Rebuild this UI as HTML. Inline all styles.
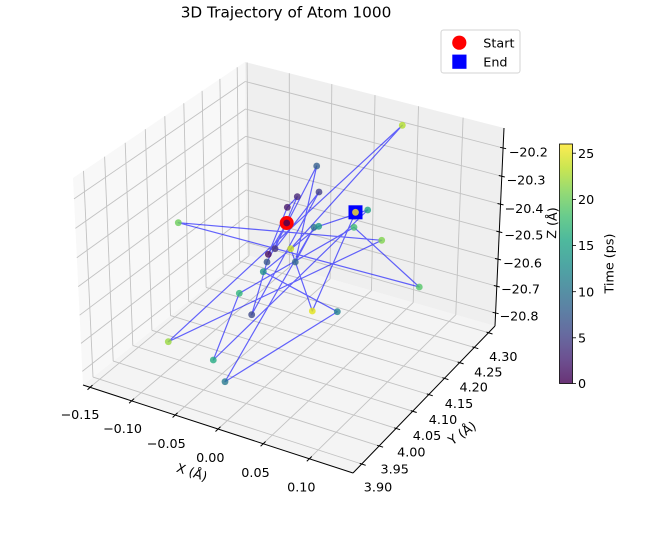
<!DOCTYPE html>
<html>
<head>
<meta charset="utf-8">
<style>
  html, body { margin:0; padding:0; background:#ffffff; }
  svg { display:block; }
  text { font-family: "DejaVu Sans", "Liberation Sans", sans-serif; fill:#000; }
</style>
</head>
<body>
<svg width="651" height="535" viewBox="0 0 651 535" xmlns="http://www.w3.org/2000/svg">
  <defs>
    <linearGradient id="vir" x1="0" y1="1" x2="0" y2="0">
      <stop offset="0" stop-color="#440154"/>
      <stop offset="0.1" stop-color="#482475"/>
      <stop offset="0.2" stop-color="#414487"/>
      <stop offset="0.3" stop-color="#355f8d"/>
      <stop offset="0.4" stop-color="#2a788e"/>
      <stop offset="0.5" stop-color="#21918c"/>
      <stop offset="0.6" stop-color="#22a884"/>
      <stop offset="0.7" stop-color="#44bf70"/>
      <stop offset="0.8" stop-color="#7ad151"/>
      <stop offset="0.9" stop-color="#bddf26"/>
      <stop offset="1" stop-color="#fde725"/>
    </linearGradient>
  </defs>
  <rect x="0" y="0" width="651" height="535" fill="#ffffff"/>

  <!-- Title -->
  <text x="286" y="17.5" font-size="15.3" text-anchor="middle">3D Trajectory of Atom 1000</text>

  <!-- Panes -->
  <polygon points="83,385 353,473 495,326 247,255" fill="#f4f4f4"/>
  <polygon points="247,255 495,326 504,128 245,62" fill="#efefef"/>
  <polygon points="83,385 247,255 245,62 73,178" fill="#f8f8f8"/>

  <!-- Grid -->
  <g stroke="#c2c2c2" stroke-width="0.9" fill="none">
    <!-- x grid bottom -->
    <line x1="90.0" y1="387.3" x2="249.0" y2="255.6"/>
    <line x1="131.6" y1="400.8" x2="289.4" y2="267.1"/>
    <line x1="175.1" y1="415.0" x2="330.1" y2="278.8"/>
    <line x1="218.0" y1="429.0" x2="371.5" y2="290.6"/>
    <line x1="263.1" y1="443.7" x2="413.2" y2="302.6"/>
    <line x1="309.3" y1="458.7" x2="455.8" y2="314.8"/>
    <!-- x grid back -->
    <line x1="249.0" y1="255.6" x2="247.1" y2="62.5"/>
    <line x1="289.4" y1="267.1" x2="289.3" y2="73.3"/>
    <line x1="330.1" y1="278.8" x2="331.8" y2="84.1"/>
    <line x1="371.5" y1="290.6" x2="375.0" y2="95.1"/>
    <line x1="413.2" y1="302.6" x2="418.5" y2="106.2"/>
    <line x1="455.8" y1="314.8" x2="463.1" y2="117.6"/>
    <!-- y grid bottom -->
    <line x1="93.0" y1="377.1" x2="361.7" y2="464.0"/>
    <line x1="113.2" y1="361.1" x2="379.1" y2="445.9"/>
    <line x1="132.8" y1="345.5" x2="396.1" y2="428.4"/>
    <line x1="151.9" y1="330.3" x2="412.7" y2="411.2"/>
    <line x1="170.5" y1="315.6" x2="428.8" y2="394.5"/>
    <line x1="188.6" y1="301.3" x2="444.4" y2="378.3"/>
    <line x1="206.1" y1="287.4" x2="459.6" y2="362.6"/>
    <line x1="223.1" y1="274.0" x2="474.3" y2="347.4"/>
    <line x1="239.5" y1="261.1" x2="488.5" y2="332.7"/>
    <!-- y grid left -->
    <line x1="93.0" y1="377.1" x2="83.5" y2="170.9"/>
    <line x1="113.2" y1="361.1" x2="104.6" y2="156.7"/>
    <line x1="132.8" y1="345.5" x2="125.2" y2="142.8"/>
    <line x1="151.9" y1="330.3" x2="145.3" y2="129.2"/>
    <line x1="170.5" y1="315.6" x2="164.8" y2="116.1"/>
    <line x1="188.6" y1="301.3" x2="183.8" y2="103.3"/>
    <line x1="206.1" y1="287.4" x2="202.1" y2="90.9"/>
    <line x1="223.1" y1="274.0" x2="219.9" y2="78.9"/>
    <line x1="239.5" y1="261.1" x2="237.2" y2="67.3"/>
    <!-- z grid back -->
    <line x1="495.6" y1="313" x2="246.9" y2="242.3"/>
    <line x1="496.8" y1="286.25" x2="246.6" y2="216.2"/>
    <line x1="498.0" y1="259.2" x2="246.3" y2="189.9"/>
    <line x1="499.3" y1="231.85" x2="246.0" y2="163.2"/>
    <line x1="500.5" y1="204.2" x2="245.8" y2="136.3"/>
    <line x1="501.8" y1="176.25" x2="245.5" y2="109.0"/>
    <line x1="503.1" y1="148" x2="245.2" y2="81.5"/>
    <!-- z grid left -->
    <line x1="246.9" y1="242.3" x2="82.3" y2="371.4"/>
    <line x1="246.6" y1="216.2" x2="81.0" y2="343.4"/>
    <line x1="246.3" y1="189.9" x2="79.6" y2="315.2"/>
    <line x1="246.0" y1="163.2" x2="78.2" y2="286.6"/>
    <line x1="245.8" y1="136.3" x2="76.8" y2="257.7"/>
    <line x1="245.5" y1="109.0" x2="75.4" y2="228.4"/>
    <line x1="245.2" y1="81.5" x2="74.0" y2="198.9"/>
  </g>

  <!-- Axis lines -->
  <g stroke="#000" stroke-width="1" fill="none">
    <line x1="83" y1="385" x2="353" y2="473"/>
    <line x1="353" y1="473" x2="495" y2="326"/>
    <line x1="495" y1="326" x2="504" y2="128"/>
  </g>

  <!-- Tick marks -->
  <g stroke="#000" stroke-width="1">
    <line x1="87.5" y1="389.8" x2="92.5" y2="385.1"/>
    <line x1="129.1" y1="403.3" x2="134.1" y2="398.6"/>
    <line x1="172.6" y1="417.5" x2="177.6" y2="412.8"/>
    <line x1="215.5" y1="431.5" x2="220.5" y2="426.8"/>
    <line x1="260.6" y1="446.2" x2="265.6" y2="441.5"/>
    <line x1="306.8" y1="461.2" x2="311.8" y2="456.5"/>

    <line x1="359.7" y1="463.4" x2="365.7" y2="465.3"/>
    <line x1="377.1" y1="445.3" x2="383.1" y2="447.2"/>
    <line x1="394.1" y1="427.8" x2="400.1" y2="429.7"/>
    <line x1="410.7" y1="410.6" x2="416.7" y2="412.5"/>
    <line x1="426.8" y1="393.9" x2="432.8" y2="395.8"/>
    <line x1="442.4" y1="377.7" x2="448.4" y2="379.6"/>
    <line x1="457.6" y1="362.0" x2="463.6" y2="363.9"/>
    <line x1="472.3" y1="346.8" x2="478.3" y2="348.7"/>
    <line x1="486.5" y1="332.1" x2="492.5" y2="334.0"/>

    <line x1="492.6" y1="312.3" x2="498.6" y2="313.7"/>
    <line x1="493.8" y1="285.5" x2="499.8" y2="287.0"/>
    <line x1="495.0" y1="258.5" x2="501.0" y2="259.9"/>
    <line x1="496.3" y1="231.1" x2="502.3" y2="232.6"/>
    <line x1="497.5" y1="203.5" x2="503.5" y2="204.9"/>
    <line x1="498.8" y1="175.5" x2="504.8" y2="177.0"/>
    <line x1="500.1" y1="147.3" x2="506.1" y2="148.7"/>
  </g>

  <!-- Tick labels -->
  <g font-size="12.75" text-anchor="middle">
    <text x="80" y="418.9">−0.15</text>
    <text x="122.5" y="432.9">−0.10</text>
    <text x="166.2" y="447.9">−0.05</text>
    <text x="210.3" y="462.1">0.00</text>
    <text x="255.5" y="477.1">0.05</text>
    <text x="301.3" y="491.6">0.10</text>

    <text x="378" y="491.3">3.90</text>
    <text x="394.7" y="473.6">3.95</text>
    <text x="411.3" y="456.6">4.00</text>
    <text x="427" y="439.9">4.05</text>
    <text x="443" y="423.9">4.10</text>
    <text x="459" y="407.9">4.15</text>
    <text x="473.7" y="391.6">4.20</text>
    <text x="488.3" y="376.3">4.25</text>
    <text x="503.3" y="360.8">4.30</text>

    <text x="528.3" y="156.3">−20.2</text>
    <text x="526" y="184.6">−20.3</text>
    <text x="524" y="212.9">−20.4</text>
    <text x="523.8" y="239.6">−20.5</text>
    <text x="522.5" y="267.6">−20.6</text>
    <text x="520.5" y="293.6">−20.7</text>
    <text x="519" y="320.6">−20.8</text>
  </g>

  <!-- Axis labels -->
  <g font-size="12.75" text-anchor="middle">
    <text transform="translate(192,472) rotate(18)" y="4.6">X (Å)</text>
    <text transform="translate(462,433) rotate(-35)" y="4.6">Y (Å)</text>
    <text transform="translate(552,223) rotate(-88)" y="4.6">Z (Å)</text>
  </g>

  <!-- Trajectory line -->
  <polyline fill="none" stroke="#0000ff" stroke-opacity="0.6" stroke-width="1.2" stroke-linejoin="round"
    points="286.7,223 268.3,254.3 287.3,207.3 297.3,196.7 275,248.7 319,192 251.7,314.7 267,262 316.7,166 295.3,262 314,227.3 225,381.7 337.3,311.7 263.3,271.7 318.7,226.3 367.7,210 213.3,360 239.3,293.3 354,227.3 419.3,287 178.3,222.7 381.7,240.3 168.3,341.7 402.3,125.3 290.7,248.7 312.3,311 355.5,212.3"/>

  <!-- Start / End markers -->
  <circle cx="286.7" cy="223" r="7" fill="#ff0000"/>
  <rect x="348.5" y="205.3" width="14" height="14" fill="#0000ff"/>

  <!-- Scatter points -->
  <g fill-opacity="0.8">
    <circle cx="286.7" cy="223" r="3.4" fill="#440154"/>
    <circle cx="268.3" cy="254.3" r="3.4" fill="#470d60"/>
    <circle cx="287.3" cy="207.3" r="3.4" fill="#481a6c"/>
    <circle cx="297.3" cy="196.7" r="3.4" fill="#482878"/>
    <circle cx="275" cy="248.7" r="3.4" fill="#46337f"/>
    <circle cx="319" cy="192" r="3.4" fill="#424086"/>
    <circle cx="251.7" cy="314.7" r="3.4" fill="#3e4a89"/>
    <circle cx="267" cy="262" r="3.4" fill="#3a548c"/>
    <circle cx="316.7" cy="166" r="3.4" fill="#355f8d"/>
    <circle cx="295.3" cy="262" r="3.4" fill="#31688e"/>
    <circle cx="314" cy="227.3" r="3.4" fill="#2d718e"/>
    <circle cx="225" cy="381.7" r="3.4" fill="#297b8e"/>
    <circle cx="337.3" cy="311.7" r="3.4" fill="#26828e"/>
    <circle cx="263.3" cy="271.7" r="3.4" fill="#21918c"/>
    <circle cx="318.7" cy="226.3" r="3.4" fill="#1f988b"/>
    <circle cx="367.7" cy="210" r="3.4" fill="#20a386"/>
    <circle cx="213.3" cy="360" r="3.4" fill="#25ab82"/>
    <circle cx="239.3" cy="293.3" r="3.4" fill="#32b67a"/>
    <circle cx="354" cy="227.3" r="3.4" fill="#40bd72"/>
    <circle cx="419.3" cy="287" r="3.4" fill="#54c568"/>
    <circle cx="178.3" cy="222.7" r="3.4" fill="#6ccd5a"/>
    <circle cx="381.7" cy="240.3" r="3.4" fill="#7fd34e"/>
    <circle cx="168.3" cy="341.7" r="3.4" fill="#98d83e"/>
    <circle cx="402.3" cy="125.3" r="3.4" fill="#b2dd2d"/>
    <circle cx="290.7" cy="248.7" r="3.4" fill="#c8e020"/>
    <circle cx="312.3" cy="311" r="3.4" fill="#e2e418"/>
    <circle cx="355.5" cy="212.3" r="3.4" fill="#fde725"/>
  </g>

  <!-- Legend -->
  <rect x="441" y="30" width="79" height="43" rx="2.5" ry="2.5" fill="#ffffff" fill-opacity="0.8" stroke="#d3d3d3" stroke-width="1"/>
  <circle cx="459.3" cy="42.7" r="7.1" fill="#ff0000"/>
  <rect x="452.3" y="54.6" width="14.2" height="14.2" fill="#0000ff"/>
  <text x="483.3" y="47.3" font-size="12.75">Start</text>
  <text x="483.3" y="66.3" font-size="12.75">End</text>

  <!-- Colorbar -->
  <rect x="559.5" y="144" width="13" height="239.5" fill="#ffffff"/>
  <rect x="559.5" y="144" width="13" height="239.5" fill="url(#vir)" fill-opacity="0.8"/>
  <rect x="559.5" y="144" width="13" height="239.5" fill="none" stroke="#000" stroke-width="0.8"/>
  <g stroke="#000" stroke-width="0.8">
    <line x1="572.5" y1="383.5" x2="576" y2="383.5"/>
    <line x1="572.5" y1="337.8" x2="576" y2="337.8"/>
    <line x1="572.5" y1="291.7" x2="576" y2="291.7"/>
    <line x1="572.5" y1="245.5" x2="576" y2="245.5"/>
    <line x1="572.5" y1="199.4" x2="576" y2="199.4"/>
    <line x1="572.5" y1="153.2" x2="576" y2="153.2"/>
  </g>
  <g font-size="12.75">
    <text x="578" y="388.1">0</text>
    <text x="578" y="342.4">5</text>
    <text x="578" y="296.3">10</text>
    <text x="578" y="250.1">15</text>
    <text x="578" y="204">20</text>
    <text x="578" y="157.8">25</text>
  </g>
  <text transform="translate(609,263.5) rotate(-90)" y="4.6" font-size="12.75" text-anchor="middle">Time (ps)</text>
</svg>
</body>
</html>
